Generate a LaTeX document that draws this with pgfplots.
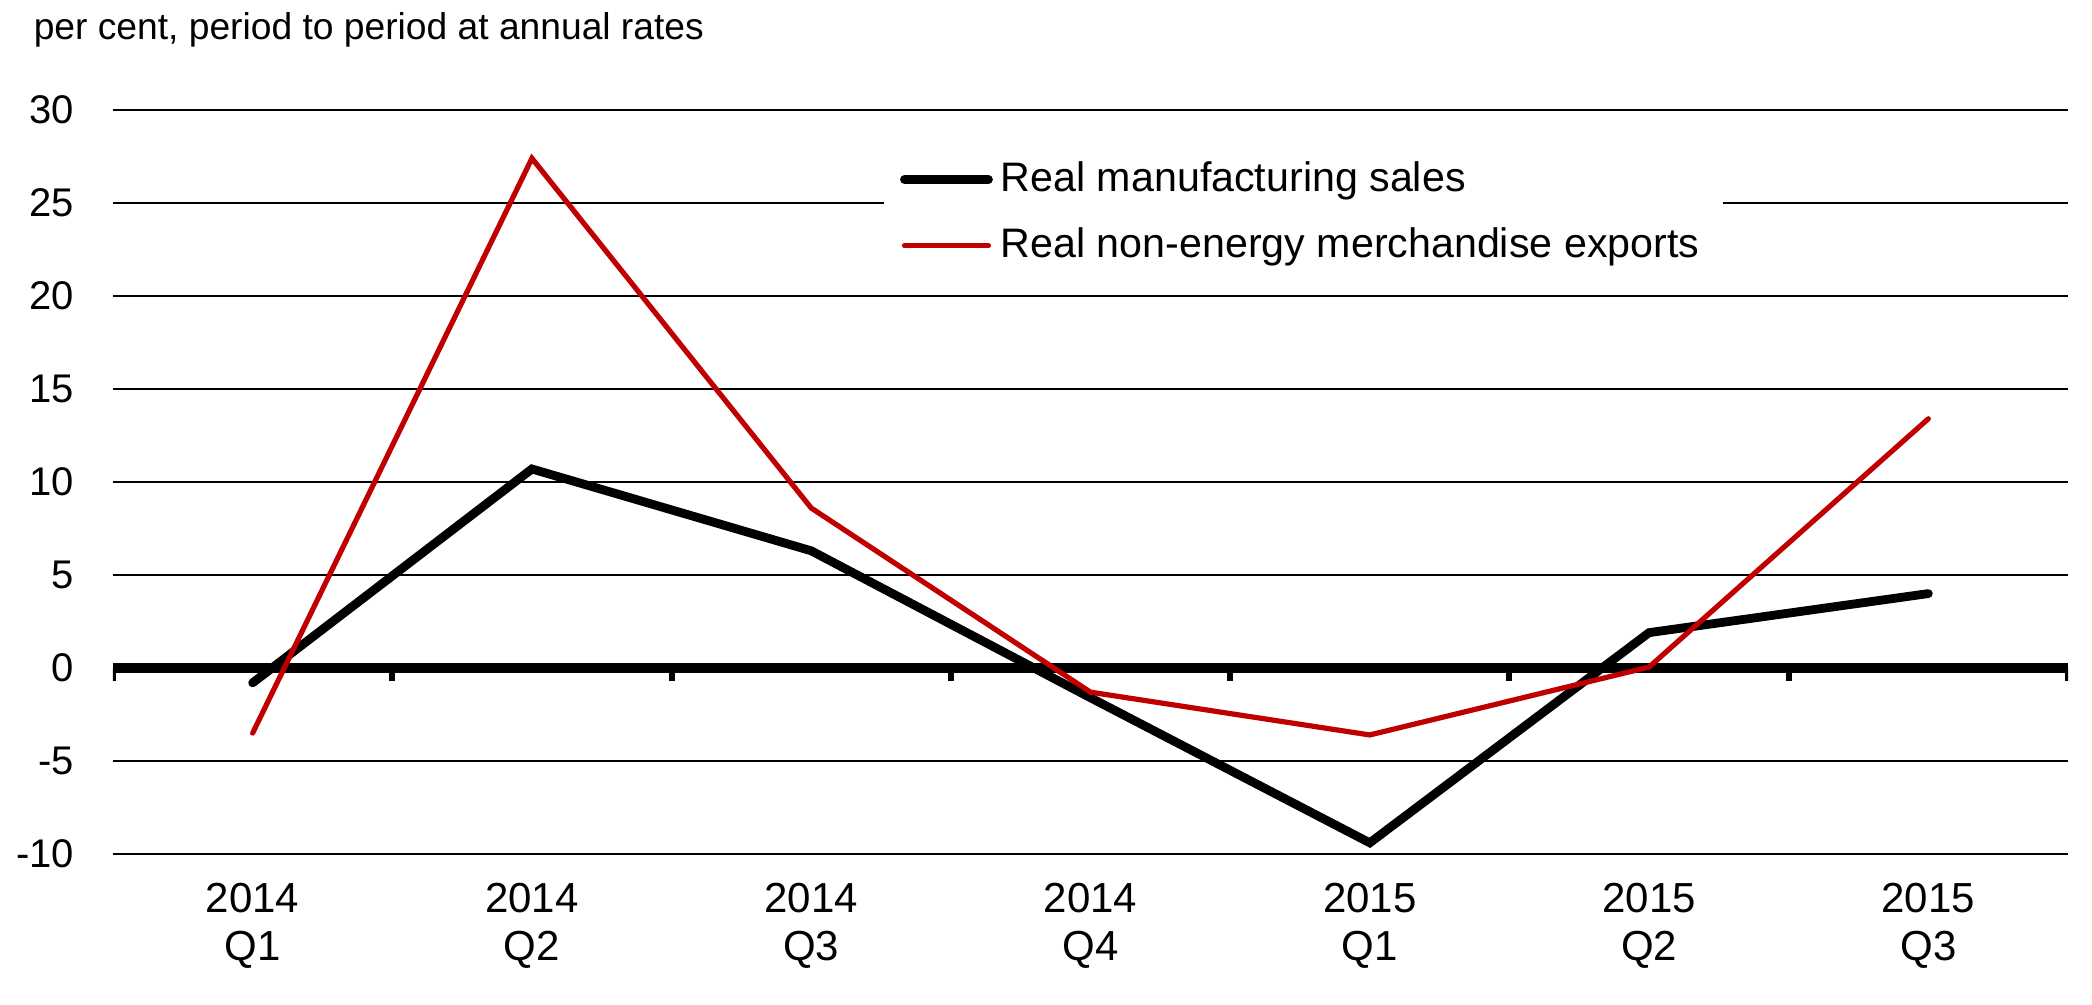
\documentclass[border=0pt]{standalone}
\usepackage{fontspec}
\setmainfont{Liberation Sans}
\usepackage{pgfplots}
\pgfplotsset{compat=1.18}
\definecolor{exportred}{RGB}{192,0,0}

\begin{document}
\begin{tikzpicture}[x=1pt,y=1pt]
\path[use as bounding box] (-28.25,-37.75) rectangle (494.75,213.5);
\node[anchor=base west, inner sep=0pt, font=\fontsize{9.3}{11}\selectfont]
  at (-20,203.5) {per cent, period to period at annual rates};
\begin{axis}[
  at={(0,0)}, anchor=south west,
  width=488.75pt, height=186pt, scale only axis,
  xmin=0.5, xmax=7.5, ymin=-10, ymax=30,
  axis line style={draw=none},
  major tick length=0pt,
  ytick={-10,-5,...,30},
  yticklabels={-10,-5,0,5,10,15,20,25,30},
  yticklabel style={anchor=east, inner sep=0pt, xshift=-9.5pt,
    font=\fontsize{10}{12}\selectfont},
  ymajorgrids, grid style={black, line width=0.6pt},
  xtick={1,...,7},
  xticklabels={{2014\\Q1},{2014\\Q2},{2014\\Q3},{2014\\Q4},{2015\\Q1},{2015\\Q2},{2015\\Q3}},
  xticklabel style={align=center, anchor=north, inner sep=0pt, yshift=-7pt,
    font=\fontsize{10.5}{12}\selectfont},
  legend style={at={(0.394,0.964)}, anchor=north west, fill=white, draw=none,
    font=\fontsize{10.3}{12.5}\selectfont, row sep=3.6pt, inner xsep=4pt, inner ysep=4pt},
  legend cell align=left,
  legend image code/.code={\draw[#1, line cap=round] (0pt,0pt) -- (21pt,0pt);},
]
\draw[line width=2.4pt] (axis cs:0.5,0) -- (axis cs:7.5,0);
\pgfplotsinvokeforeach{0.5,1.5,2.5,3.5,4.5,5.5,6.5,7.5}{
  \draw[line width=1.5pt] (axis cs:#1,0) -- ([yshift=-3.2pt]axis cs:#1,0);
}
% Real manufacturing sales
\addplot[black, line width=2.2pt, line cap=round] coordinates {
(1,-0.8) (2,10.7) (3,6.3) (4,-1.6) (5,-9.4) (6,1.9) (7,4.0)
}; \addlegendentry{Real manufacturing sales}
% Real non-energy merchandise exports
\addplot[exportred, line width=1.3pt, line cap=round] coordinates {
(1,-3.5) (2,27.4) (3,8.6) (4,-1.3) (5,-3.6) (6,0.05) (7,13.4)
}; \addlegendentry{Real non-energy merchandise exports}
\end{axis}
\end{tikzpicture}
\end{document}
